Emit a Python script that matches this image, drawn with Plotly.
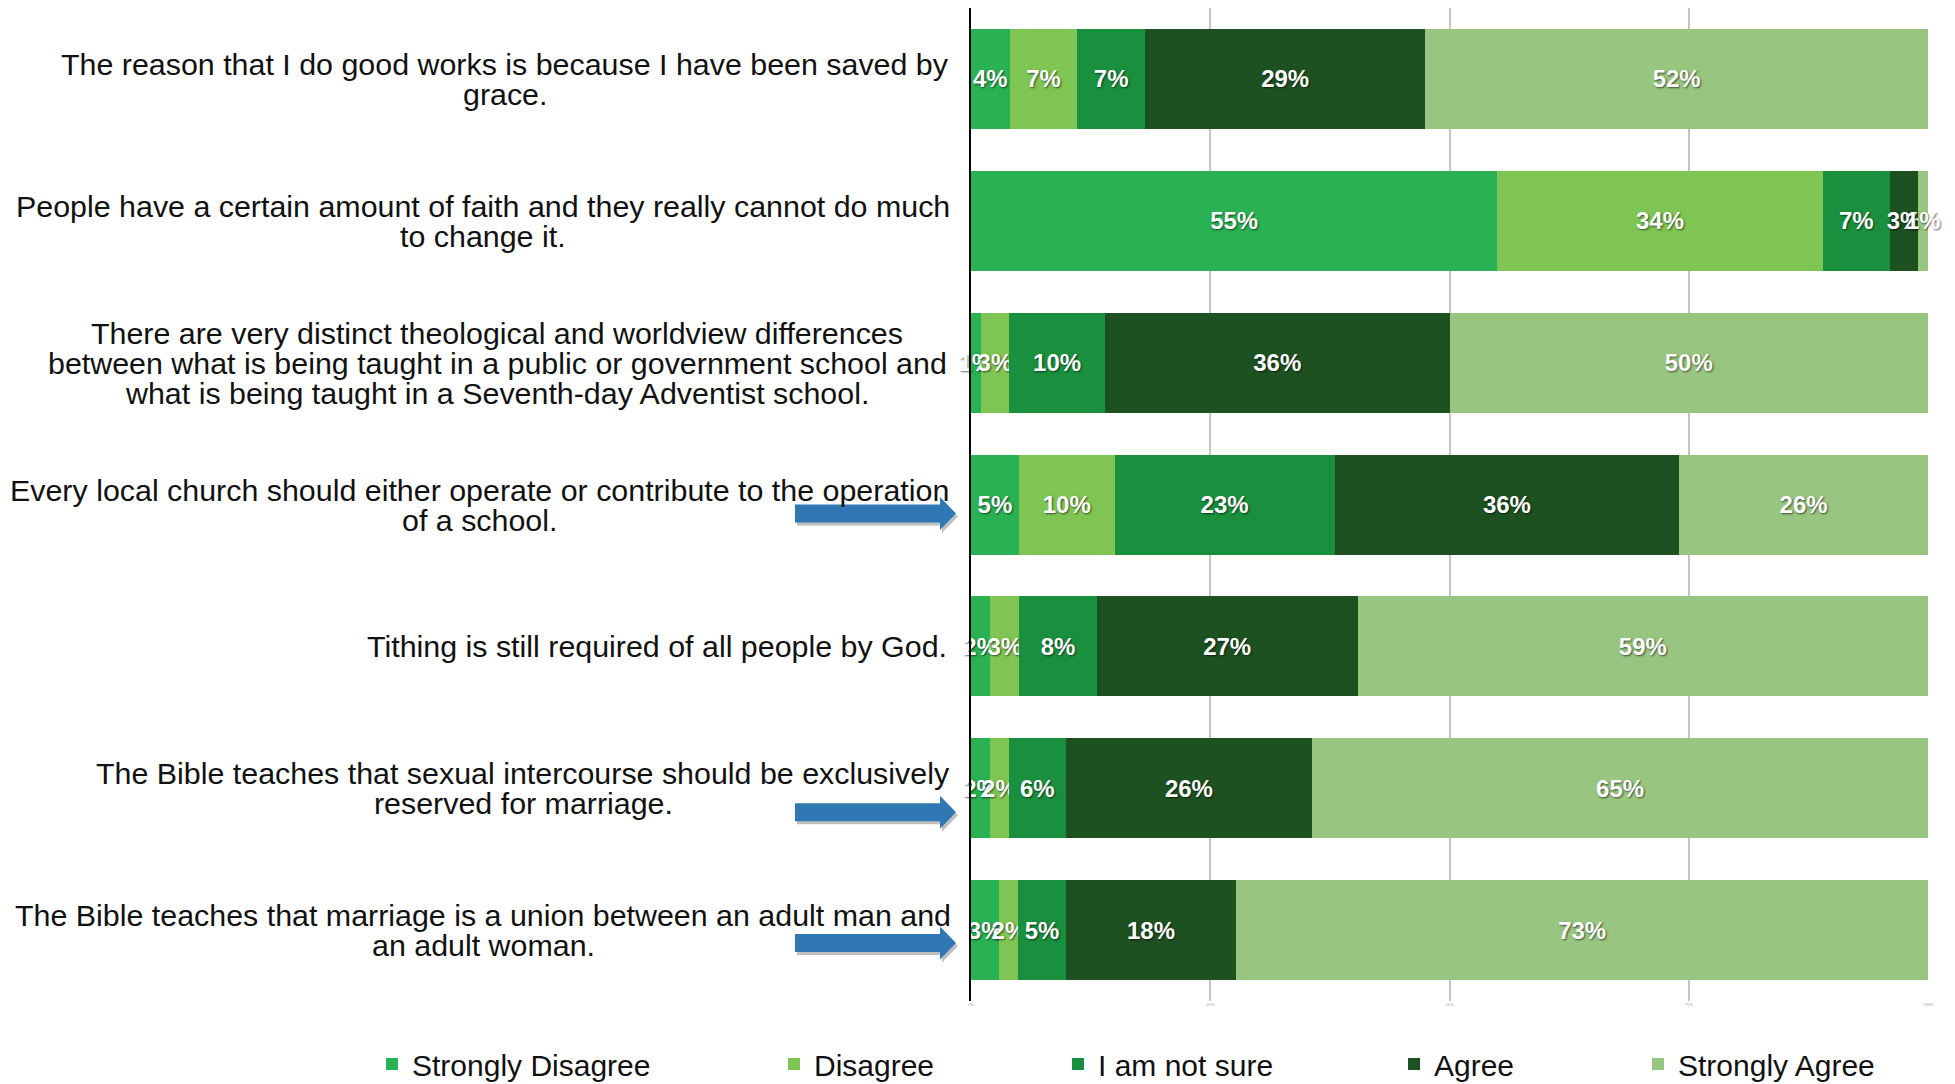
import plotly.graph_objects as go

categories = [
    "The reason that I do good works is because I have been saved by<br>grace.",
    "People have a certain amount of faith and they really cannot do much<br>to change it.",
    "There are very distinct theological and worldview differences<br>between what is being taught in a public or government school and<br>what is being taught in a Seventh-day Adventist school.",
    "Every local church should either operate or contribute to the operation<br>of a school.",
    "Tithing is still required of all people by God.",
    "The Bible teaches that sexual intercourse should be exclusively<br>reserved for marriage.",
    "The Bible teaches that marriage is a union between an adult man and<br>an adult woman.",
]
series_names = ["Strongly Disagree", "Disagree", "I am not sure", "Agree", "Strongly Agree"]
strongly_disagree = [4, 55, 1, 5, 2, 2, 3]
disagree = [7, 34, 3, 10, 3, 2, 2]
not_sure = [7, 7, 10, 23, 8, 6, 5]
agree = [29, 3, 36, 36, 27, 26, 18]
strongly_agree = [52, 1, 50, 26, 59, 65, 73]
series_values = [strongly_disagree, disagree, not_sure, agree, strongly_agree]
colors = ["#2AB154", "#7FC553", "#1A8F3E", "#1E5121", "#98C57F"]
tick_vals = [0, 25, 50, 75, 100]
tick_text = ["0%", "25%", "50%", "75%", "100%"]
arrow_rows = [3, 5, 6]

W, H = 1955, 1084
# plot area in page pixels: x 971..1928, y 8..1001
PL, PR, PT, PB = 971, 1928, 8, 1001
ML, MR, MT, MB = PL, W - PR, PT, H - PB
PW = PR - PL
PH = PB - PT

def px_x(px):
    return (px - PL) / PW

def px_y(py):
    return (PB - py) / PH

fig = go.Figure()
legend_ids = ["legend", "legend2", "legend3", "legend4", "legend5"]
for name, vals, col, lid in zip(series_names, series_values, colors, legend_ids):
    fig.add_trace(go.Bar(
        y=categories, x=vals, orientation="h", name=name,
        marker=dict(color=col, line=dict(width=0)),
        text=[f"{v}%" for v in vals], texttemplate="%{text}",
        textposition="inside", insidetextanchor="middle", textangle=0,
        textfont=dict(color="white", size=24, family="Liberation Sans", weight="bold",
                      shadow="1px 1px 2px rgba(0,0,0,0.6)"),
        cliponaxis=False,
        legend=lid, showlegend=True, hoverinfo="skip",
    ))

# category labels (per line, centred block, right edge aligned)
block_centers = [505, 483, 497, 479, 657, 523, 483]
line_h = 30
annotations = []
for cat, cx in zip(categories, block_centers):
    lines = cat.split("<br>")
    n = len(lines)
    for i, ln in enumerate(lines):
        annotations.append(dict(
            xref="paper", yref="y", x=0, y=cat, xshift=cx - PL,
            xanchor="center", yanchor="middle", showarrow=False,
            yshift=-(i - (n - 1) / 2) * line_h,
            text=ln, font=dict(family="Liberation Sans", size=30.4, color="#111111"),
        ))

# arrows
row_centers_px = [PT + PH / 7 * (i + 0.5) for i in range(7)]
arrow_offsets = {3: 9, 5: 24, 6: 13}
shapes = []
for r in arrow_rows:
    cy = row_centers_px[r] + arrow_offsets[r]
    for dx, dy, col in [(2, 3, "rgba(0,0,0,0.25)"), (0, 0, "#2F78B3")]:
        x0, xb, xt = 795 + dx, 940 + dx, 956 + dx
        c = cy + dy
        pts = [(x0, c - 9), (xb, c - 9), (xb, c - 16.5), (xt, c), (xb, c + 16.5), (xb, c + 9), (x0, c + 9)]
        path = "M " + " L ".join(f"{px_x(a):.5f},{px_y(b):.5f}" for a, b in pts) + " Z"
        shapes.append(dict(type="path", xref="paper", yref="paper", path=path,
                           fillcolor=col, line=dict(width=0), layer="above"))

legend_text_starts = [411, 813, 1097, 1433, 1677]
legend_y = px_y(1064)
layout_legends = {}
for lid, ts in zip(legend_ids, legend_text_starts):
    layout_legends[lid] = dict(
        x=px_x(ts - 39), y=legend_y, xanchor="left", yanchor="middle",
        orientation="h", bgcolor="rgba(0,0,0,0)", borderwidth=0,
        font=dict(family="Liberation Sans", size=30, color="#111111"),
        itemwidth=30, visible=True,
    )

fig.update_layout(
    width=W, height=H,
    margin=dict(l=ML, r=MR, t=MT, b=MB, autoexpand=False),
    showlegend=True,
    barmode="stack", barnorm="percent", bargap=0.295,
    plot_bgcolor="white", paper_bgcolor="white",
    uniformtext=dict(minsize=24, mode="show"),
    annotations=annotations, shapes=shapes,
    xaxis=dict(range=[0, 100], tickvals=tick_vals, ticktext=tick_text,
               showgrid=True, gridcolor="#C4C4C4", gridwidth=1.5, zeroline=False,
               tickfont=dict(size=4, color="#999999"), ticks="", fixedrange=True),
    yaxis=dict(autorange="reversed", showticklabels=False, showgrid=False,
               showline=True, linecolor="black", linewidth=2, zeroline=False, ticks=""),
    **layout_legends,
)

fig.write_html("out.html", config={"displayModeBar": False},
               post_script="document.body.style.margin='0';document.body.style.overflow='hidden';")
